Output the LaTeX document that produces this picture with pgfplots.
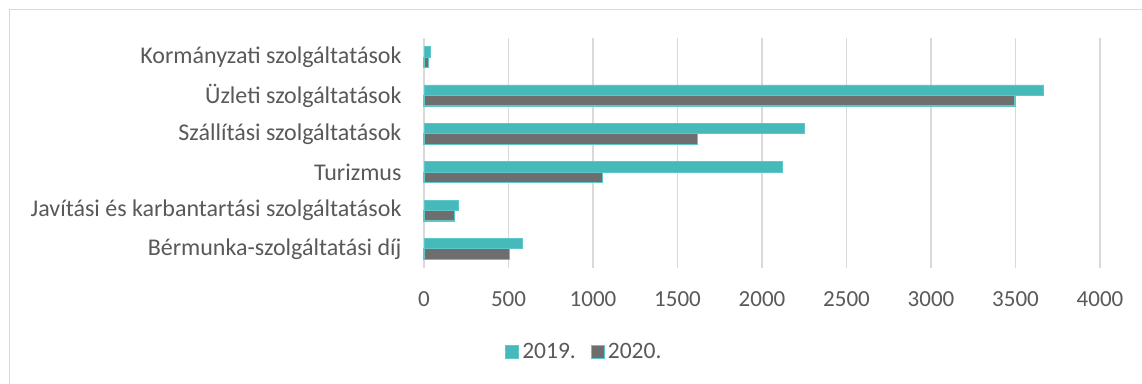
\documentclass[border=0pt]{standalone}
\usepackage{pgfplots}
\pgfplotsset{compat=1.18}
\usepackage{fontspec}
\setmainfont{Carlito}
\definecolor{teal19}{HTML}{46B9BB}
\definecolor{tealedge}{HTML}{5CC6C8}
\definecolor{gray20}{HTML}{6E6E6E}
\definecolor{txt}{HTML}{595959}
\definecolor{gridc}{HTML}{D9D9D9}
\begin{document}
\begin{tikzpicture}
\useasboundingbox (0pt,0pt) rectangle (1142pt,383pt);
\draw[gridc, line width=1pt] (9.5pt,-5pt) -- (9.5pt,373.5pt) -- (1150pt,373.5pt);
\begin{axis}[
  at={(424pt,115pt)}, anchor=south west,
  scale only axis, width=676pt, height=230pt,
  xbar, bar width=10.5pt,
  xmin=0, xmax=4000, ymin=-0.5, ymax=5.5,
  xtick={0,500,...,4000},
  ytick={0,1,2,3,4,5},
  yticklabels={Bérmunka-szolgáltatási díj, Javítási és karbantartási szolgáltatások, Turizmus, Szállítási szolgáltatások, Üzleti szolgáltatások, Kormányzati szolgáltatások},
  axis line style={draw=none},
  major tick length=0pt,
  xmajorgrids, grid style={gridc, line width=1.5pt},
  /pgf/number format/assume math mode=true,
  /pgf/number format/1000 sep={},
  xticklabel style={font=\fontsize{23}{26}\selectfont, text=txt, yshift=-20pt},
  yticklabel style={font=\fontsize{24}{28}\selectfont, text=txt, xshift=-19pt},
  legend style={draw=none, font=\fontsize{23.5}{26}\selectfont, text=txt,
    at={(axis description cs:0.238,-0.365)}, anchor=center, legend columns=2,
    nodes={inner sep=3pt},
    /tikz/every even column/.append style={column sep=12pt}},
  legend image code/.code={\draw[#1, line width=1pt] (0pt,-6.5pt) rectangle (13pt,6.5pt);},
  clip=false,
]
\addplot[fill=teal19, draw=tealedge, line width=0.8pt, bar shift=5.25pt] coordinates {
  (584,0) (203,1) (2118,2) (2251,3) (3668,4) (35,5)};
\addlegendentry{2019.}
\addplot[fill=gray20, draw=tealedge, line width=1.2pt, bar shift=-5.25pt] coordinates {
  (508,0) (180,1) (1054,2) (1617,3) (3497,4) (28,5)};
\addlegendentry{2020.}
\end{axis}
\end{tikzpicture}
\end{document}
